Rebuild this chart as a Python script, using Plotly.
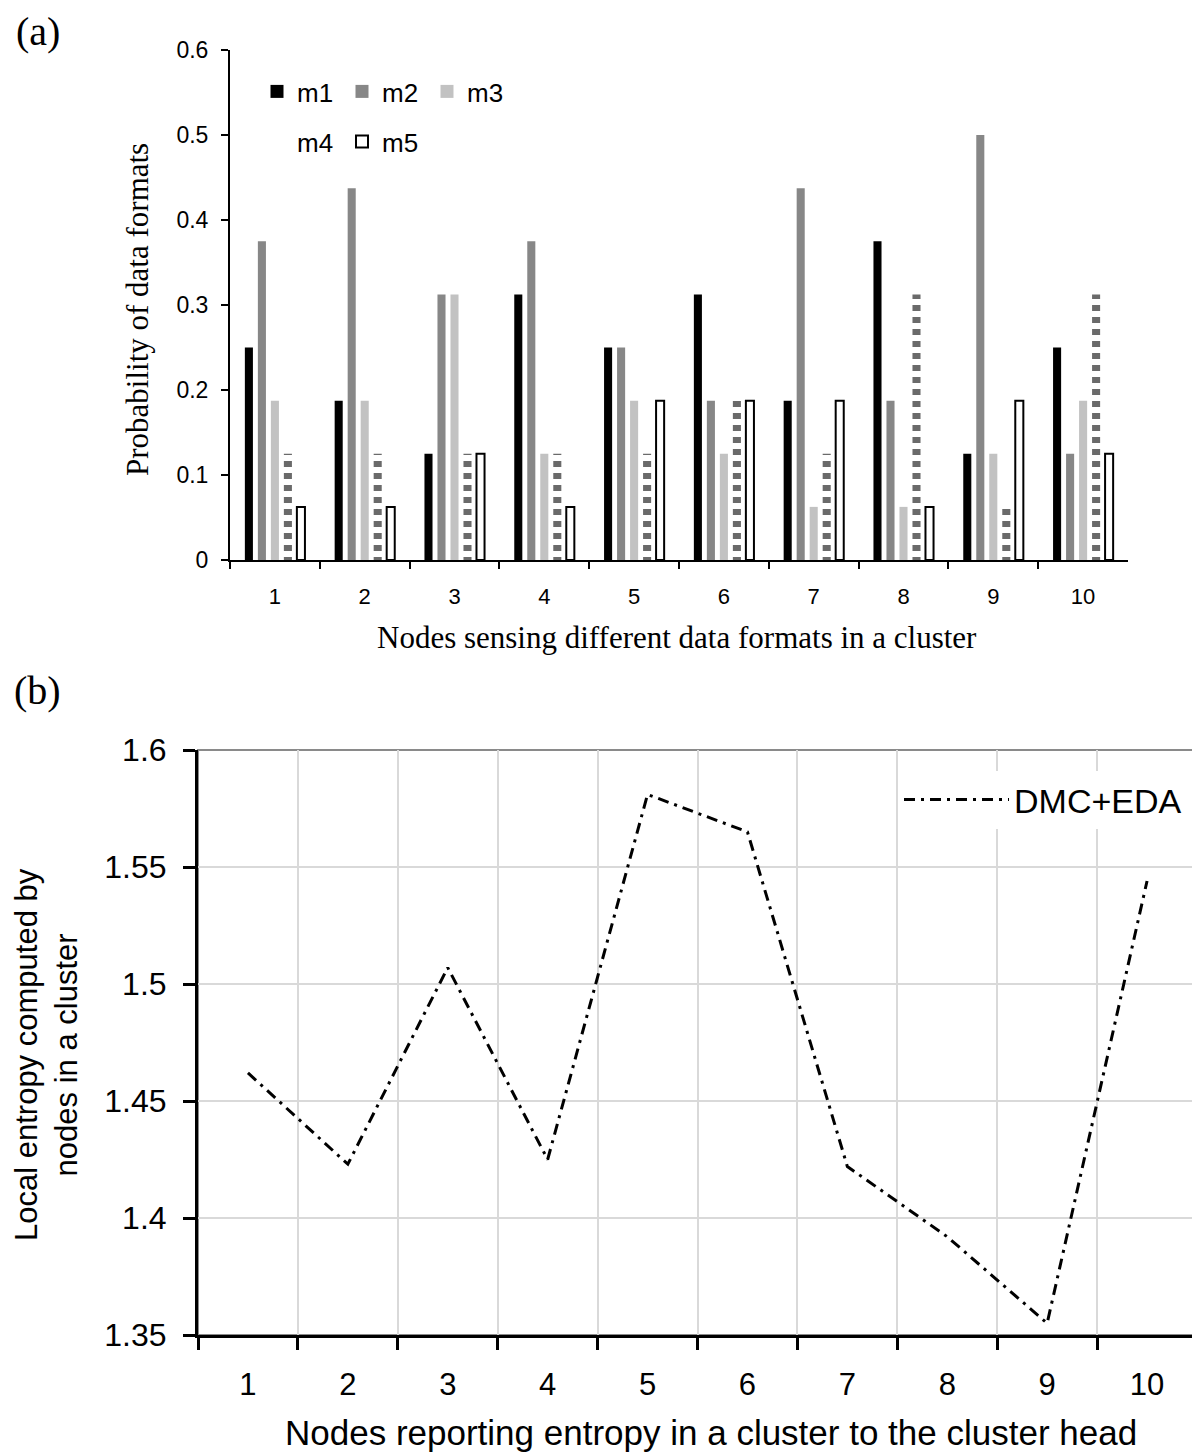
import plotly.graph_objects as go

nodes = ["1", "2", "3", "4", "5", "6", "7", "8", "9", "10"]
m1 = [0.25, 0.1875, 0.125, 0.3125, 0.25, 0.3125, 0.1875, 0.375, 0.125, 0.25]
m2 = [0.375, 0.4375, 0.3125, 0.375, 0.25, 0.1875, 0.4375, 0.1875, 0.5, 0.125]
m3 = [0.1875, 0.1875, 0.3125, 0.125, 0.1875, 0.125, 0.0625, 0.0625, 0.125, 0.1875]
m4 = [0.125, 0.125, 0.125, 0.125, 0.125, 0.1875, 0.125, 0.3125, 0.06, 0.3125]
m5 = [0.0625, 0.0625, 0.125, 0.0625, 0.1875, 0.1875, 0.1875, 0.0625, 0.1875, 0.125]
entropy = [1.462, 1.423, 1.507, 1.425, 1.581, 1.565, 1.422, 1.392, 1.355, 1.544]

OFF = 8
W, H = 1200 - OFF, 1455 - OFF
SANS = "Liberation Sans, Arial, sans-serif"
SERIF = "Liberation Serif, Times New Roman, serif"

def px(x):
    return min(1.0, max(0.0, (x - OFF) / W))

def py(y):
    return min(1.0, max(0.0, (H - (y - OFF)) / H))

fig = go.Figure()

series = [
    ("m1", m1, dict(color="#000000", line=dict(width=0))),
    ("m2", m2, dict(color="#878787", line=dict(width=0))),
    ("m3", m3, dict(color="#c2c2c2", line=dict(width=0))),
    ("m4", m4, dict(color="rgba(0,0,0,0)", line=dict(width=0),
                    pattern=dict(shape="-", fgcolor="#6a6a6a", fgopacity=1, bgcolor="rgba(0,0,0,0)",
                                 size=12, solidity=0.5, fillmode="overlay"))),
    ("m5", m5, dict(color="#ffffff", line=dict(width=2, color="#000000"))),
]
for name, vals, mk in series:
    fig.add_trace(go.Bar(x=nodes, y=vals, name=name, marker=mk, showlegend=False,
                         xaxis="x", yaxis="y"))

# legend entries (square swatches as in the reference; m4 has no visible swatch)
legend_items = [
    ("m1", "legend", dict(symbol="square", size=13, color="#000000", line=dict(width=0))),
    ("m2", "legend", dict(symbol="square", size=13, color="#878787", line=dict(width=0))),
    ("m3", "legend", dict(symbol="square", size=13, color="#c2c2c2", line=dict(width=0))),
    ("m4", "legend2", dict(symbol="square", size=13, color="rgba(0,0,0,0)", line=dict(width=0))),
    ("m5", "legend2", dict(symbol="square", size=12, color="#ffffff", line=dict(width=2, color="#000000"))),
]
for i, (name, lg, mk) in enumerate(legend_items):
    fig.add_trace(go.Scatter(x=[None], y=[None], name=name, mode="markers", marker=mk,
                             xaxis="x", yaxis="y", legend=lg, legendrank=i + 1))

fig.add_trace(go.Scatter(x=nodes, y=entropy, name="DMC+EDA", mode="lines",
                         line=dict(color="#000000", width=3, dash="11px,6px,3px,6px"),
                         xaxis="x2", yaxis="y2", legend="legend3"))

axis_common = dict(showline=True, linecolor="#000000", ticks="outside", tickcolor="#000000",
                   zeroline=False)

fig.update_layout(
    width=W, height=H, autosize=False,
    margin=dict(l=0, r=0, t=0, b=0, pad=0, autoexpand=False),
    paper_bgcolor="#ffffff", plot_bgcolor="#ffffff",
    barmode="group", bargap=0.276, bargroupgap=0.38,
    xaxis=dict(domain=[px(230), px(1128)], anchor="y", type="category", tickson="boundaries",
               range=[-0.5, len(nodes) - 0.5],
               linewidth=2, ticklen=7, tickwidth=2, showgrid=False,
               tickfont=dict(family=SANS, size=22, color="#000"), ticklabelstandoff=16,
               **axis_common),
    yaxis=dict(domain=[py(560), py(50)], anchor="x", range=[0, 0.6], dtick=0.1,
               linewidth=2, ticklen=7, tickwidth=2, showgrid=False,
               tickfont=dict(family=SANS, size=23, color="#000"), ticklabelstandoff=8,
               **axis_common),
    xaxis2=dict(domain=[px(198), px(1197)], anchor="y2", type="category", tickson="boundaries",
                range=[-0.5, len(nodes) - 0.5],
                linewidth=3, ticklen=12, tickwidth=2.5, showgrid=True, gridcolor="#d9d9d9", gridwidth=1.5,
                tickfont=dict(family=SANS, size=31, color="#000"), ticklabelstandoff=20,
                **axis_common),
    yaxis2=dict(domain=[py(1335), py(750)], anchor="x2", range=[1.35, 1.6], dtick=0.05,
                linewidth=3, ticklen=12, tickwidth=2.5, showgrid=True, gridcolor="#d9d9d9", gridwidth=1.5,
                tickfont=dict(family=SANS, size=32, color="#000"), ticklabelstandoff=10,
                **axis_common),
    legend=dict(orientation="h", x=px(257), y=py(68), xanchor="left", yanchor="top",
                entrywidth=40, entrywidthmode="pixels", bgcolor="rgba(0,0,0,0)", itemsizing="trace",
                font=dict(family=SANS, size=26, color="#000"), traceorder="normal"),
    legend2=dict(orientation="h", x=px(257), y=py(118), xanchor="left", yanchor="top",
                 entrywidth=40, entrywidthmode="pixels", bgcolor="rgba(0,0,0,0)", itemsizing="trace",
                 font=dict(family=SANS, size=26, color="#000"), traceorder="normal"),
    legend3=dict(x=px(899), y=py(771), xanchor="left", yanchor="top",
                 bgcolor="#ffffff", font=dict(family=SANS, size=34, color="#000"),
                 itemwidth=105),
    showlegend=True,
)

fig.add_shape(type="rect", xref="x2 domain", yref="y2 domain", x0=0, x1=1, y0=0, y1=1,
              line=dict(color="#8a8a8a", width=2), layer="below")

annots = [
    dict(text="(a)", x=px(38), y=py(31), font=dict(family=SERIF, size=40, color="#000")),
    dict(text="(b)", x=px(38), y=py(690), font=dict(family=SERIF, size=40, color="#000")),
    dict(text="Probability of data formats", x=px(137), y=py(310), textangle=-90,
         font=dict(family=SERIF, size=31, color="#000")),
    dict(text="Nodes sensing different data formats in a cluster", x=px(677), y=py(637),
         font=dict(family=SERIF, size=31, color="#000")),
    dict(text="Local entropy computed by<br>nodes in a cluster", x=px(46), y=py(1055), textangle=-90,
         font=dict(family=SANS, size=31, color="#000")),
    dict(text="Nodes reporting entropy in a cluster to the cluster head", x=px(711), y=py(1432),
         font=dict(family=SANS, size=35, color="#000")),
]
for a in annots:
    fig.add_annotation(xref="paper", yref="paper", showarrow=False, xanchor="center", yanchor="middle", **a)

fig.write_html("out.html")
